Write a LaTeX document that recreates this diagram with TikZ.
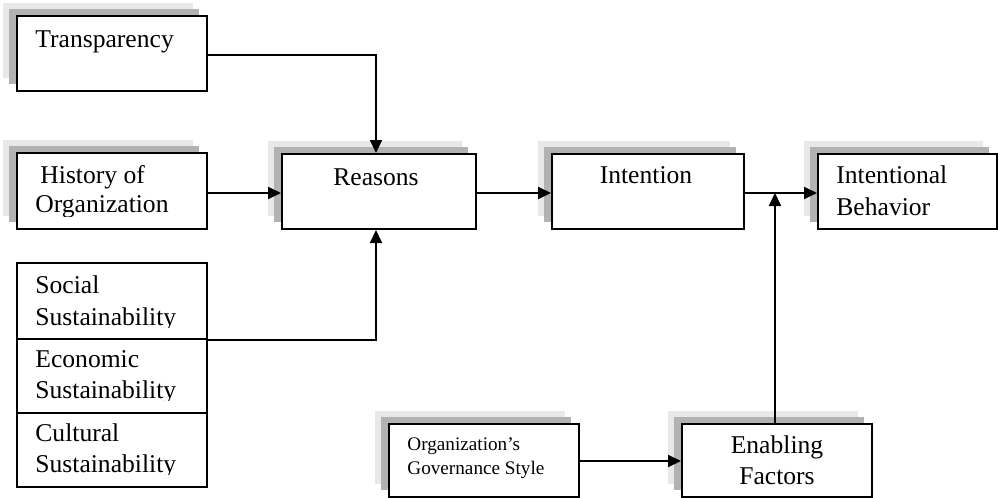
\documentclass[tikz,border=0pt]{standalone}
\usepackage{fontspec}
\setmainfont{Liberation Serif}
\usetikzlibrary{arrows.meta,shadows}
\begin{document}
\begin{tikzpicture}[x=0.5pt,y=-0.5pt,
  box/.style={draw=black,line width=1pt,fill=white,rectangle,anchor=north west,inner sep=0pt},
  shbox/.style={box,
    general shadow={fill=black!9,shadow xshift=-7pt,shadow yshift=6.5pt},
    general shadow={fill=black!30,shadow xshift=-4pt,shadow yshift=3.5pt}},
  lbl/.style={anchor=base west,inner sep=0pt,font=\fontsize{12.8}{15}\selectfont},
  clbl/.style={anchor=base,inner sep=0pt,font=\fontsize{12.8}{15}\selectfont},
  slbl/.style={anchor=base west,inner sep=0pt,font=\fontsize{9.6}{12}\selectfont},
  arr/.style={draw=black,line width=1pt,-{Triangle[length=6.5pt,width=6pt]}}]
\useasboundingbox (0,0) rectangle (998,498);
% boxes
\node[shbox,minimum width=95pt,minimum height=37.5pt] (T) at (16,15) {};
\node[shbox,minimum width=95pt,minimum height=38pt] (H) at (16,152) {};
\node[shbox,minimum width=97pt,minimum height=37.5pt] (R) at (281,153) {};
\node[shbox,minimum width=96pt,minimum height=37.5pt] (I) at (551,153) {};
\node[shbox,minimum width=89.5pt,minimum height=37.5pt] (B) at (817,153) {};
\node[box,minimum width=95pt,minimum height=38pt] (S) at (16,262) {};
\node[box,minimum width=95pt,minimum height=37pt] (E) at (16,338) {};
\node[box,minimum width=95pt,minimum height=37pt] (C) at (16,412) {};
\node[shbox,minimum width=95pt,minimum height=36.5pt] (O) at (388,423) {};
\node[shbox,minimum width=95pt,minimum height=36.5pt] (F) at (681,423) {};
% texts
\node[lbl] (tT) at (35,47) {Transparency};
\node[lbl] (tH1) at (40,183) {History of};
\begin{scope}
\clip (0,0) rectangle (998,216);
\node[lbl] (tH2) at (35,213) {Organization};
\end{scope}
\node[clbl] (tR) at (376,185) {Reasons};
\node[clbl] (tI) at (646,183) {Intention};
\node[lbl] (tB1) at (836,183) {Intentional};
\node[lbl] (tB2) at (836,215) {Behavior};
\node[lbl] (tS1) at (35,293) {Social};
\node[lbl] (tE1) at (35,367) {Economic};
\node[lbl] (tC1) at (35,441) {Cultural};
\begin{scope}
\clip (0,0) rectangle (998,327);
\node[lbl] (tS2) at (35,325) {Sustainability};
\end{scope}
\begin{scope}
\clip (0,0) rectangle (998,400);
\node[lbl] (tE2) at (35,398) {Sustainability};
\end{scope}
\begin{scope}
\clip (0,0) rectangle (998,474);
\node[lbl] (tC2) at (35,472) {Sustainability};
\end{scope}
\node[slbl] (tO1) at (407,450) {Organization’s};
\node[slbl] (tO2) at (407,474) {Governance Style};
\node[clbl] (tF1) at (777,453) {Enabling};
\node[clbl] (tF2) at (777,484) {Factors};
% connectors
\coordinate (TR) at (376,55);
\draw[arr] (T.east |- TR) -- (TR) -- (TR |- R.north);
\coordinate (HR) at (206,193);
\draw[arr] (HR) -- (HR -| R.west);
\coordinate (SX) at (376,0);
\draw[arr] (S.south east) -- (SX |- S.south east) -- (SX |- R.south);
\coordinate (RI) at (475,193);
\draw[arr] (RI) -- (RI -| I.west);
\coordinate (IB) at (743,193);
\draw[arr] (IB) -- (IB -| B.west);
\coordinate (J) at (775,193);
\draw[arr] (J |- F.north) -- (J);
\coordinate (OF) at (578,461);
\draw[arr] (OF) -- (OF -| F.west);
\end{tikzpicture}
\end{document}
